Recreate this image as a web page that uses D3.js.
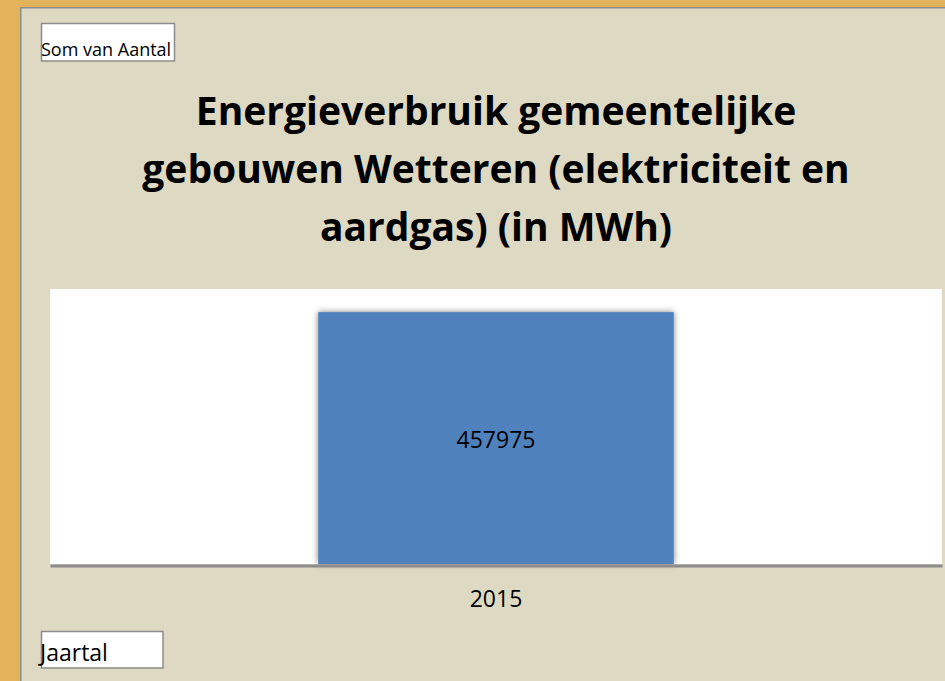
<!DOCTYPE html>
<html>
<head>
<meta charset="utf-8">
<script src="https://cdn.jsdelivr.net/npm/d3@7"></script>
<style>
    body { margin: 0; background: #e2b35a; }
    svg { display: block; }
    text { font-family: "Open Sans", Lato, sans-serif; fill: #000; }
</style>
</head>
<body>
<svg id="chart"></svg>
<script>
const width = 945,
    height = 681;

// data
const years = ["2015"];
const values = [457975];
const titleLines = ["Energieverbruik gemeentelijke", "gebouwen Wetteren (elektriciteit en", "aardgas) (in MWh)"];
const valueField = "Som van Aantal";
const categoryField = "Jaartal";

const plot = {left: 50, right: 942, top: 289, bottom: 564};

let svg = d3.select("#chart").attr("width", width).attr("height", height);

let defs = svg.append("defs");
defs.append("filter")
    .attr("id", "barShadow")
    .attr("x", "-5%").attr("y", "-5%").attr("width", "110%").attr("height", "110%")
    .append("feDropShadow")
    .attr("dx", 0).attr("dy", 0)
    .attr("stdDeviation", 3)
    .attr("flood-color", "#000")
    .attr("flood-opacity", 0.5);

// outer frame
svg.append("rect").attr("x", 0).attr("y", 0).attr("width", width).attr("height", height).attr("fill", "#e2b35a");
svg.append("rect").attr("x", 20).attr("y", 7).attr("width", width - 20).attr("height", height - 7).attr("fill", "#8c8c8c");
svg.append("rect").attr("x", 21.5).attr("y", 8.5).attr("width", width - 21.5).attr("height", height - 8.5).attr("fill", "#ddd9c3");

// field buttons
function fieldButton(x, y, w, h, label, size, tx, ty) {
    svg.append("rect")
        .attr("x", x).attr("y", y).attr("width", w).attr("height", h)
        .attr("fill", "#fff").attr("stroke", "#8c8c8c").attr("stroke-width", 1.5);
    svg.append("text")
        .attr("x", tx).attr("y", ty)
        .attr("font-size", size)
        .text(label);
}
fieldButton(41.5, 23.5, 133, 37.5, valueField, 18, 41, 56);
fieldButton(41.5, 631.5, 121.5, 36.5, categoryField, 23, 40, 661);

// title
svg.append("g").selectAll("text")
    .data(titleLines)
    .join("text")
    .attr("x", 496)
    .attr("y", (d, i) => 125 + i * 58)
    .attr("text-anchor", "middle")
    .attr("font-size", 39)
    .attr("font-weight", "bold")
    .text(d => d);

// plot area
svg.append("rect")
    .attr("x", plot.left).attr("y", plot.top)
    .attr("width", plot.right - plot.left).attr("height", plot.bottom - plot.top)
    .attr("fill", "#fff");

const xScale = d3.scaleBand().domain(years).range([plot.left, plot.right]).padding(0.43);
const yScale = d3.scaleLinear().domain([0, 500000]).range([plot.bottom, plot.top]);

svg.append("g").selectAll("rect")
    .data(values)
    .join("rect")
    .attr("x", (d, i) => xScale(years[i]))
    .attr("y", d => yScale(d))
    .attr("width", xScale.bandwidth())
    .attr("height", d => yScale(0) - yScale(d))
    .attr("fill", "#4f81bd")
    .attr("filter", "url(#barShadow)");

svg.append("g").selectAll("text")
    .data(values)
    .join("text")
    .attr("x", (d, i) => xScale(years[i]) + xScale.bandwidth() / 2)
    .attr("y", d => (yScale(d) + yScale(0)) / 2 + 10)
    .attr("text-anchor", "middle")
    .attr("font-size", 23)
    .text(d => d);

// x axis
let xAxis = svg.append("g")
    .attr("transform", `translate(0,${plot.bottom + 1.5})`)
    .call(d3.axisBottom(xScale).tickSize(0).tickPadding(25));
xAxis.select(".domain").attr("stroke", "#8c8c8c").attr("stroke-width", 3);
xAxis.selectAll(".tick text")
    .attr("font-size", 23)
    .attr("font-family", "'Open Sans', Lato, sans-serif")
    .attr("fill", "#000");
</script>
</body>
</html>
